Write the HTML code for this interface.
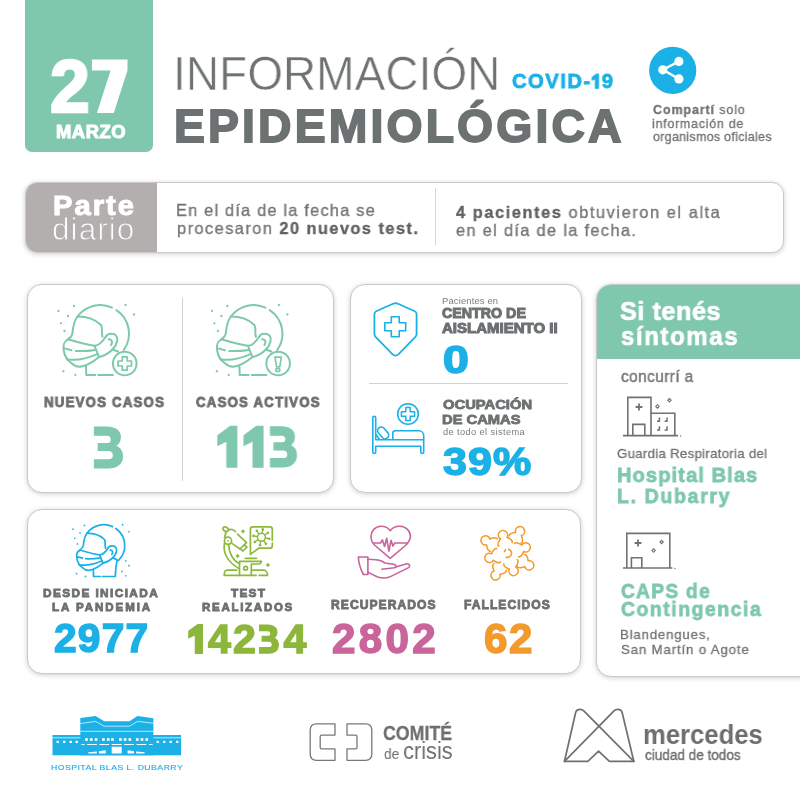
<!DOCTYPE html><html><head><meta charset="utf-8"><style>
*{margin:0;padding:0;box-sizing:border-box}
html,body{width:800px;height:800px;overflow:hidden;background:#fff}
body{position:relative;font-family:"Liberation Sans",sans-serif}
.t{position:absolute;white-space:nowrap;line-height:1;transform-origin:0 0;will-change:transform}
.bl{display:inline-block;width:0;height:0;vertical-align:baseline}
.card{position:absolute;background:#fff;border:1px solid #c9c9c9;box-shadow:0 1px 5px rgba(0,0,0,.2)}
svg{position:absolute;left:0;top:0;overflow:visible}
</style></head><body>
<div style="position:absolute;left:25px;top:-10px;width:128px;height:162px;background:#7fc8ad;border-radius:0 0 7px 7px"></div>
<svg width="800" height="800" style="position:absolute;left:0;top:0"><path d="M91.9 59.4H127.5V70.4L113.75 113.1H96.9L110.6 70.6H91.9Z" fill="#fff"/></svg>
<svg width="800" height="800" style="position:absolute;left:0;top:0">
<circle cx="672.7" cy="70.4" r="23.6" fill="#1bb1e7"/>
<g fill="#fff"><circle cx="662.8" cy="69.8" r="4.6"/><circle cx="678.9" cy="61.4" r="4.6"/><circle cx="678.9" cy="78.9" r="4.6"/></g>
<path d="M662.8 69.8L678.9 61.4M662.8 69.8L678.9 78.9" stroke="#fff" stroke-width="2.4"/>
</svg>
<div class="card" style="left:25px;top:181.5px;width:758.5px;height:71px;border-radius:12px;overflow:hidden"><div style="position:absolute;left:-1px;top:-1px;width:132px;height:72px;background:#b3afaf"></div></div>
<div style="position:absolute;left:435.2px;top:188px;width:1.2px;height:57px;background:#d6d6d6"></div>
<div class="card" style="left:27px;top:283.5px;width:306.5px;height:209px;border-radius:15px"></div>
<div style="position:absolute;left:182.2px;top:298.4px;width:1.2px;height:182.4px;background:#d3d3d3"></div>
<div class="card" style="left:350px;top:283.5px;width:231.5px;height:209px;border-radius:15px"></div>
<div style="position:absolute;left:368.6px;top:382.5px;width:199.5px;height:1.2px;background:#d3d3d3"></div>
<div class="card" style="left:27px;top:508.5px;width:554px;height:165px;border-radius:15px"></div>
<div class="card" style="left:595.5px;top:283.5px;width:230px;height:393.5px;border-radius:15px;overflow:hidden"><div style="position:absolute;left:-1px;top:-1px;width:240px;height:75.5px;background:#7fc8ad"></div></div>
<svg width="800" height="800" viewBox="0 0 800 800" style="position:absolute;left:0;top:0"><g transform="translate(50.00 295.00) scale(1.000)" fill="none" stroke="#7ccaa9" stroke-width="2.00" stroke-linecap="round" stroke-linejoin="round"><path d="M27.5 21.5A28.2 28.2 0 0 1 62 12.6M66.4 15.1A28.2 28.2 0 0 1 73.75 55.00"/><path d="M27.5 21.5C35 21.5 45 24 51 30C53 33 51 37 52.5 41.8"/><path d="M27.5 21.5C24 26 23 32 22.5 38C22 41 20 43 17.5 44.6"/><path d="M18.25 44.4C27 47 37 50 44.5 50.75C49 50.5 53 46 55.75 41.75"/><path d="M18.25 44.4C14 46 13 51 13.75 55.25C14.5 61 17 65 21.25 68C24 70.5 27 72 30 71.75C36 71 43 67 49 62"/><path d="M44.5 50.75L49 62C54 61 59 58 62.5 54.5"/><path d="M14.5 53.4L21.5 55.2M25.8 56C33 56.2 40 55.8 45.6 54.9"/><path d="M16.75 64.25C24 65.5 36 64 47.8 58.8"/><path d="M55.75 41.75C57 39 60 38.5 62 38.75C66 39 68 42 67.2 46C66.5 50 64.5 52.5 62.5 54.5"/><path d="M58.8 44.3C60.6 44 62 45.5 62 47C62 48.5 61.6 49.4 61 50"/><path d="M36 71.2L36.3 80H45.2M48.3 80H63"/><path d="M62.5 54.5L68 56.5"/></g><g transform="translate(50.00 295.00) scale(1.000)"><circle cx="24.00" cy="11.00" r="1.15" fill="#7ccaa9"/><circle cx="8.50" cy="16.00" r="1.15" fill="#7ccaa9"/><circle cx="18.00" cy="21.00" r="1.15" fill="#7ccaa9"/><circle cx="11.00" cy="28.30" r="1.15" fill="#7ccaa9"/><circle cx="14.50" cy="36.00" r="1.15" fill="#7ccaa9"/><circle cx="75.50" cy="10.00" r="1.15" fill="#7ccaa9"/><circle cx="84.00" cy="19.50" r="1.15" fill="#7ccaa9"/><circle cx="13.40" cy="76.25" r="1.15" fill="#7ccaa9"/><circle cx="25.40" cy="79.90" r="1.15" fill="#7ccaa9"/></g><circle cx="124.75" cy="363.50" r="11.8" fill="#fff" stroke="#7ccaa9" stroke-width="2"/><path d="M122.25 356.8H127.25V361.0H131.45V366.0H127.25V370.2H122.25V366.0H118.05V361.0H122.25Z" fill="none" stroke="#7ccaa9" stroke-width="1.7" stroke-linejoin="round"/><g transform="translate(203.40 295.00) scale(1.000)" fill="none" stroke="#7ccaa9" stroke-width="2.00" stroke-linecap="round" stroke-linejoin="round"><path d="M27.5 21.5A28.2 28.2 0 0 1 62 12.6M66.4 15.1A28.2 28.2 0 0 1 73.75 55.00"/><path d="M27.5 21.5C35 21.5 45 24 51 30C53 33 51 37 52.5 41.8"/><path d="M27.5 21.5C24 26 23 32 22.5 38C22 41 20 43 17.5 44.6"/><path d="M18.25 44.4C27 47 37 50 44.5 50.75C49 50.5 53 46 55.75 41.75"/><path d="M18.25 44.4C14 46 13 51 13.75 55.25C14.5 61 17 65 21.25 68C24 70.5 27 72 30 71.75C36 71 43 67 49 62"/><path d="M44.5 50.75L49 62C54 61 59 58 62.5 54.5"/><path d="M14.5 53.4L21.5 55.2M25.8 56C33 56.2 40 55.8 45.6 54.9"/><path d="M16.75 64.25C24 65.5 36 64 47.8 58.8"/><path d="M55.75 41.75C57 39 60 38.5 62 38.75C66 39 68 42 67.2 46C66.5 50 64.5 52.5 62.5 54.5"/><path d="M58.8 44.3C60.6 44 62 45.5 62 47C62 48.5 61.6 49.4 61 50"/><path d="M36 71.2L36.3 80H45.2M48.3 80H63"/><path d="M62.5 54.5L68 56.5"/></g><g transform="translate(203.40 295.00) scale(1.000)"><circle cx="24.00" cy="11.00" r="1.15" fill="#7ccaa9"/><circle cx="8.50" cy="16.00" r="1.15" fill="#7ccaa9"/><circle cx="18.00" cy="21.00" r="1.15" fill="#7ccaa9"/><circle cx="11.00" cy="28.30" r="1.15" fill="#7ccaa9"/><circle cx="14.50" cy="36.00" r="1.15" fill="#7ccaa9"/><circle cx="75.50" cy="10.00" r="1.15" fill="#7ccaa9"/><circle cx="84.00" cy="19.50" r="1.15" fill="#7ccaa9"/><circle cx="13.40" cy="76.25" r="1.15" fill="#7ccaa9"/><circle cx="25.40" cy="79.90" r="1.15" fill="#7ccaa9"/></g><circle cx="278.15" cy="363.50" r="11.8" fill="#fff" stroke="#7ccaa9" stroke-width="2"/><path d="M274.95 357.20H281.35L279.75 366.80H276.55Z" fill="none" stroke="#7ccaa9" stroke-width="1.7" stroke-linejoin="round"/><rect x="275.85" y="368.80" width="4" height="2.6" rx="0.6" fill="none" stroke="#7ccaa9" stroke-width="1.6"/><g fill="none" stroke="#1bb1e7" stroke-width="1.8" stroke-linejoin="round"><path d="M395.5 303.2C394.6 303.2 393.8 303.5 393 303.8L376.2 311.2C374.9 311.8 374.4 312.8 374.4 314.2V334C374.4 335.2 374.8 336 375.6 336.9L392.6 354.3C394.2 355.9 396.8 355.9 398.4 354.3L415.4 336.9C416.2 336 416.6 335.2 416.6 334V314.2C416.6 312.8 416.1 311.8 414.8 311.2L398 303.8C397.2 303.5 396.4 303.2 395.5 303.2Z"/><path d="M391.3 316.8H399.2V322.8H405.7V330.7H399.2V336.7H391.3V330.7H384.8V322.8H391.3Z" stroke-width="1.6"/></g><g fill="none" stroke="#1bb1e7" stroke-width="1.6" stroke-linejoin="round"><path d="M375.7 439.8V417.7A1.45 1.45 0 0 0 372.8 417.7V452A1.45 1.45 0 0 0 375.7 452V446.3H420.8V452A1.45 1.45 0 0 0 423.7 452V439.8Z"/><path d="M392.8 439.8V433.2A2.4 2.4 0 0 1 395.2 430.8H418.9A4.8 4.8 0 0 1 423.7 435.6V439.8"/><rect x="-6.6" y="-3.6" width="13.2" height="7.2" rx="3.6" transform="translate(383.2 432.9) rotate(50)"/><path d="M376 434.5L379.5 439.5"/><circle cx="408.0" cy="414.0" r="10.3"/><path d="M405.8 407.4H410.2V411.8H414.6V416.2H410.2V420.6H405.8V416.2H401.4V411.8H405.8Z" stroke-width="1.5"/></g><g fill="none" stroke="#6f7273" stroke-width="1.6"><path d="M627.8 435.6V397.4H651V435.6M651 413.2H674.8V435.6"/><path d="M632.8 435.6V424.4H644.8V435.6"/><path d="M639 403.6V410.4M635.6 407H642.4" stroke-width="1.8"/><path d="M659.4 417.4V421.2H657.0" stroke-width="1.5"/><path d="M667.0 417.4V421.2H664.6" stroke-width="1.5"/><path d="M659.4 426.2V430.0H657.0" stroke-width="1.5"/><path d="M667.0 426.2V430.0H664.6" stroke-width="1.5"/><path d="M623 435.6H678"/></g><circle cx="680.6" cy="436" r="0.7" fill="#6f7273"/><path d="M657.40 404.70L659.10 406.40L657.40 408.10L655.70 406.40Z" fill="none" stroke="#6f7273" stroke-width="1.1"/><path d="M669.40 398.50L671.10 400.20L669.40 401.90L667.70 400.20Z" fill="none" stroke="#6f7273" stroke-width="1.1"/><g fill="none" stroke="#6f7273" stroke-width="1.6"><path d="M626.8 568V533.4H669.8V568"/><path d="M631.4 568V557.8H641.8V568"/><path d="M638 539.6V546.4M634.6 543H641.4" stroke-width="1.8"/><path d="M623 568H672.4"/></g><circle cx="675" cy="568.4" r="0.7" fill="#6f7273"/><path d="M661.60 540.30L663.30 542.00L661.60 543.70L659.90 542.00Z" fill="none" stroke="#6f7273" stroke-width="1.1"/><path d="M653.60 548.90L655.30 550.60L653.60 552.30L651.90 550.60Z" fill="none" stroke="#6f7273" stroke-width="1.1"/><g transform="translate(66.70 517.30) scale(0.740)" fill="none" stroke="#1bb1e7" stroke-width="2.35" stroke-linecap="round" stroke-linejoin="round"><path d="M27.5 21.5A28.2 28.2 0 0 1 62 12.6M66.4 15.1A28.2 28.2 0 0 1 69.90 58.40"/><path d="M27.5 21.5C35 21.5 45 24 51 30C53 33 51 37 52.5 41.8"/><path d="M27.5 21.5C24 26 23 32 22.5 38C22 41 20 43 17.5 44.6"/><path d="M18.25 44.4C27 47 37 50 44.5 50.75C49 50.5 53 46 55.75 41.75"/><path d="M18.25 44.4C14 46 13 51 13.75 55.25C14.5 61 17 65 21.25 68C24 70.5 27 72 30 71.75C36 71 43 67 49 62"/><path d="M44.5 50.75L49 62C54 61 59 58 62.5 54.5"/><path d="M14.5 53.4L21.5 55.2M25.8 56C33 56.2 40 55.8 45.6 54.9"/><path d="M16.75 64.25C24 65.5 36 64 47.8 58.8"/><path d="M55.75 41.75C57 39 60 38.5 62 38.75C66 39 68 42 67.2 46C66.5 50 64.5 52.5 62.5 54.5"/><path d="M58.8 44.3C60.6 44 62 45.5 62 47C62 48.5 61.6 49.4 61 50"/><path d="M36 71.2L36.3 80H45.2M48.3 80H65.7C66 72 67 63 68.3 57.6L62.5 54.5"/></g><g transform="translate(66.70 517.30) scale(0.740)"><circle cx="24.00" cy="11.00" r="1.15" fill="#1bb1e7"/><circle cx="8.50" cy="16.00" r="1.15" fill="#1bb1e7"/><circle cx="18.00" cy="21.00" r="1.15" fill="#1bb1e7"/><circle cx="11.00" cy="28.30" r="1.15" fill="#1bb1e7"/><circle cx="14.50" cy="36.00" r="1.15" fill="#1bb1e7"/><circle cx="75.50" cy="10.00" r="1.15" fill="#1bb1e7"/><circle cx="84.00" cy="19.50" r="1.15" fill="#1bb1e7"/><circle cx="13.40" cy="76.25" r="1.15" fill="#1bb1e7"/><circle cx="25.40" cy="79.90" r="1.15" fill="#1bb1e7"/><circle cx="79.90" cy="58.90" r="1.15" fill="#1bb1e7"/><circle cx="84.00" cy="65.40" r="1.15" fill="#1bb1e7"/><circle cx="74.60" cy="73.10" r="1.15" fill="#1bb1e7"/><circle cx="79.90" cy="79.00" r="1.15" fill="#1bb1e7"/></g><g fill="none" stroke="#8cb83c" stroke-width="1.7" stroke-linecap="round" stroke-linejoin="round"><path d="M229 529.75L226 532.2L223.6 530C222.6 529 222.7 527.8 223.6 527.2C224.5 526.6 225.8 526.8 226.6 527.3Z"/><path d="M229 529.75C230.5 528.8 233.5 529.4 235.5 531.6"/><path d="M237.5 534.2L246.5 542.6L240 549L232 543.4"/><path d="M226 532.2L224.6 537.5"/><path d="M240.3 548.7L243 551L246.9 547.2L244.3 544.8"/><circle cx="228" cy="540.8" r="3.6"/><circle cx="228" cy="540.8" r="0.9" fill="#8cb83c" stroke="none"/><path d="M224.4 543.5C223.4 550 225 560 238.6 568.4"/><path d="M228.6 544.6C229 551 231 559 239.5 564"/><path d="M245.3 558.3H256.5"/><path d="M239.5 575.4V561.4H261.4C261 563 260 564 258.7 564H251.3V575.4"/><circle cx="245.6" cy="568.3" r="1.9"/><path d="M236.8 570.1H227.2C225 570.1 224.2 572.5 224.2 575.4H256.1M259.2 575.4H267.5C267.5 572.5 266 570.1 263.8 570.1H252.6"/><path d="M272.3 540.2V529.3C272.3 527.9 271.2 526.8 269.8 526.8H252.9C251.5 526.8 250.4 527.9 250.4 529.3V554.4L258.7 548.2H269.8C271.2 548.2 272.3 547.1 272.3 545.7V543.2"/><circle cx="261.4" cy="537.3" r="4.0" stroke-width="1.5"/><path d="M265.34 537.99L268.88 538.62" stroke-width="1.3"/><path d="M263.69 540.58L265.76 543.53" stroke-width="1.3"/><path d="M260.71 541.24L260.08 544.78" stroke-width="1.3"/><path d="M258.12 539.59L255.17 541.66" stroke-width="1.3"/><path d="M257.46 536.61L253.92 535.98" stroke-width="1.3"/><path d="M259.11 534.02L257.04 531.07" stroke-width="1.3"/><path d="M262.09 533.36L262.72 529.82" stroke-width="1.3"/><path d="M264.68 535.01L267.63 532.94" stroke-width="1.3"/></g><circle cx="269.28" cy="538.69" r="1.3" fill="#8cb83c"/><circle cx="265.99" cy="543.85" r="1.3" fill="#8cb83c"/><circle cx="260.01" cy="545.18" r="1.3" fill="#8cb83c"/><circle cx="254.85" cy="541.89" r="1.3" fill="#8cb83c"/><circle cx="253.52" cy="535.91" r="1.3" fill="#8cb83c"/><circle cx="256.81" cy="530.75" r="1.3" fill="#8cb83c"/><circle cx="262.79" cy="529.42" r="1.3" fill="#8cb83c"/><circle cx="267.95" cy="532.71" r="1.3" fill="#8cb83c"/><path d="M243 528.9Q243.672 530.6279999999999 245.4 531.3Q243.672 531.972 243 533.6999999999999Q242.328 531.972 240.6 531.3Q242.328 530.6279999999999 243 528.9Z" fill="#8cb83c"/><path d="M237.6 553.6Q238.272 555.328 240.0 556Q238.272 556.672 237.6 558.4Q236.928 556.672 235.2 556Q236.928 555.328 237.6 553.6Z" fill="#8cb83c"/><path d="M267.9 562.5Q268.572 564.228 270.29999999999995 564.9Q268.572 565.572 267.9 567.3Q267.22799999999995 565.572 265.5 564.9Q267.22799999999995 564.228 267.9 562.5Z" fill="#8cb83c"/><g fill="none" stroke="#c8639b" stroke-width="1.6" stroke-linecap="round" stroke-linejoin="round"><path d="M390.2 530.7C388 527.5 384.5 526.1 381 526.2C375 526.5 371 531 371 536.5C371 540 372.5 543 375 545.5L390.2 558.3L405.5 545.5C408 543 410.4 540 410.4 536.5C410.4 531 406 526.5 400 526.2C396 526.1 392.5 527.5 390.2 530.7Z"/><path d="M374 543H380.6L382.4 539.9L384.6 546.5L386.7 538.2L388.9 551.2L391.1 540.4L392.9 546.1L394.6 543H407.4"/><path d="M358.3 557H367.9V574.5H363.4C360.6 569.5 358.8 564 358.3 557Z"/><path d="M367.9 559.2C372 559.2 378 559.6 381.5 561L385 563C388 563.8 392 564 393.7 564.2C396.5 564.6 396.6 567.6 394.5 567.8L381.9 569.2"/><path d="M395.4 567L406.9 563.8C409.2 563.3 410.6 566.4 408.6 567.6L389.4 577.1C385 578.6 381 578.2 377 576.8L368.2 572.4"/></g><g fill="none" stroke="#f39a2c" stroke-width="1.55" stroke-linecap="round"><path d="M509.15 536.04C509.06 532.99 513.37 532.70 515.50 532.17A4.60 4.60 0 1 1 521.43 535.57C522.05 537.68 523.97 541.55 521.29 543.01"/><path d="M498.64 546.15C496.44 544.04 499.32 540.81 500.47 538.94A4.60 4.60 0 1 1 507.08 537.22C509.00 538.29 513.08 539.71 512.19 542.63"/><path d="M490.45 551.20C487.40 551.33 487.07 547.01 486.51 544.89A4.60 4.60 0 1 1 489.86 538.92C491.96 538.29 495.81 536.33 497.30 538.99"/><path d="M500.53 562.05C498.46 564.29 495.18 561.47 493.29 560.36A4.60 4.60 0 1 1 491.44 553.78C492.48 551.84 493.82 547.73 496.76 548.57"/><path d="M506.28 570.20C506.48 573.25 502.17 573.68 500.06 574.28A4.60 4.60 0 1 1 494.02 571.08C493.34 568.99 491.29 565.18 493.92 563.64"/><path d="M517.20 559.71C519.52 561.69 516.84 565.08 515.80 567.02A4.60 4.60 0 1 1 509.30 569.13C507.33 568.17 503.16 566.99 503.88 564.03"/><path d="M524.40 554.43C527.45 554.35 527.72 558.67 528.25 560.80A4.60 4.60 0 1 1 524.82 566.72C522.71 567.32 518.83 569.24 517.38 566.55"/><path d="M514.50 543.44C516.53 541.16 519.86 543.92 521.77 545.00A4.60 4.60 0 1 1 523.73 551.56C522.72 553.51 521.45 557.64 518.50 556.85"/><path d="M508.5 549.2A4 4 0 1 1 506.2 557.2"/><path d="M504.4 551.5L505.6 549.6"/></g><g><rect x="52.5" y="735" width="128.5" height="20.3" fill="#1bb1e7"/><path d="M80.3 755.3V718.1L95.6 715.9L104.2 721.3H129.5L137.5 715.9L153.4 718.2V755.3Z" fill="#1bb1e7"/><g fill="none" stroke="#fff" stroke-width="0.7"><path d="M80.3 723.6L95.6 721.4L104.2 726.2H129.5L137.5 721.4L153.4 723.2"/><path d="M80.3 731.3H153.4M52.5 737.8H80.3M153.4 737.8H181"/></g><g fill="#fff"><rect x="56.5" y="740.8" width="2.4" height="2.2"/><rect x="63.0" y="740.8" width="2.4" height="2.2"/><rect x="69.5" y="740.8" width="2.4" height="2.2"/><rect x="75.5" y="740.8" width="2.4" height="2.2"/><rect x="156.5" y="740.8" width="2.4" height="2.2"/><rect x="163.0" y="740.8" width="2.4" height="2.2"/><rect x="169.5" y="740.8" width="2.4" height="2.2"/><rect x="176.0" y="740.8" width="2.4" height="2.2"/><rect x="85.1" y="738.2" width="2.7" height="2.6"/><rect x="89.9" y="738.2" width="2.7" height="2.6"/><rect x="94.7" y="738.2" width="2.7" height="2.6"/><rect x="102.1" y="738.2" width="2.7" height="2.6"/><rect x="106.9" y="738.2" width="2.7" height="2.6"/><rect x="111.1" y="738.2" width="2.7" height="2.6"/><rect x="119.0" y="738.2" width="2.7" height="2.6"/><rect x="123.7" y="738.2" width="2.7" height="2.6"/><rect x="128.5" y="738.2" width="2.7" height="2.6"/><rect x="135.9" y="738.2" width="2.7" height="2.6"/><rect x="140.6" y="738.2" width="2.7" height="2.6"/><rect x="145.4" y="738.2" width="2.7" height="2.6"/><rect x="81.4" y="744" width="3.2" height="1"/><rect x="87.2" y="744" width="9.6" height="1"/><rect x="99.4" y="744" width="9.6" height="1"/><rect x="111.7" y="744" width="10.0" height="1"/><rect x="124.2" y="744" width="9.8" height="1"/><rect x="136.7" y="744" width="9.6" height="1"/><rect x="149.0" y="744" width="3.6" height="1"/><rect x="111.7" y="746.7" width="10" height="6.8"/><path d="M88.3 753.5H96.8V751.4L88.3 752.2ZM98.9 753.5H105.8V750.3L98.9 751.2Z"/><path d="M144.6 753.5H136.1V751.4L144.6 752.2ZM134 753.5H127.6V750.3L134 751.2Z"/></g></g><g fill="none" stroke="#77787a" stroke-width="1.3" stroke-linejoin="round"><path d="M335 723.8H316.5C312.5 723.8 310.2 726.1 310.2 730.1V754C310.2 758 312.5 760.3 316.5 760.3H335V748.9H321.5C320.7 748.9 320.2 748.4 320.2 747.6V736.4C320.2 735.6 320.7 735.1 321.5 735.1H335Z"/><path d="M347 723.8H365.5C369.5 723.8 371.8 726.1 371.8 730.1V754C371.8 758 369.5 760.3 365.5 760.3H347V748.9H355.7C356.5 748.9 357 748.4 357 747.6V736.4C357 735.6 356.5 735.1 355.7 735.1H347Z"/></g><g fill="none" stroke="#6e7072" stroke-width="1.7" stroke-linejoin="round" stroke-linecap="round"><path d="M564.5 761.3L575.6 712.8C576.2 710.3 578 709.3 580 709.3C581.6 709.3 582.8 709.9 583.8 710.9L633.8 761.3"/><path d="M633.8 761.3L622.2 712.8C621.6 710.3 619.8 709.3 617.8 709.3C616.2 709.3 615 709.9 614 710.9L564.5 761.3"/><path d="M564.5 761.3H587.8L598.6 751.2L609.4 761.3H633.8"/></g></svg>
<div id="t27" class="t" style="left:50.05px;top:49.80px;font-size:74.286px;color:#ffffff;transform:scaleX(0.9605);letter-spacing:0.000px;-webkit-text-stroke-width:2.60px;"><span style="font-weight:700;">2</span><i class="bl"></i></div>
<div id="marzo" class="t" style="left:55.55px;top:123.60px;font-size:17.536px;color:#ffffff;transform:scaleX(1.0500);letter-spacing:0.524px;-webkit-text-stroke-width:1.00px;"><span style="font-weight:700;">MARZO</span><i class="bl"></i></div>
<div id="info" class="t" style="left:172.57px;top:48.55px;font-size:48.333px;color:#6e7273;transform:scaleX(0.9500);letter-spacing:0.099px;-webkit-text-stroke:0.60px #fff;"><span style="font-weight:400;">INFORMACIÓN</span><i class="bl"></i></div>
<div id="covid" class="t" style="left:511.79px;top:70.60px;font-size:20.870px;color:#1bb1e7;transform:scaleX(0.9700);letter-spacing:1.518px;-webkit-text-stroke-width:0.80px;"><span style="font-weight:700;">COVID-<svg viewBox="0 0 427 690" style="width:0.427em;height:0.69em;vertical-align:baseline;position:static;overflow:visible;margin-right:1.518px"><path d="M240 -4H347V690H183V228L23 306V150Z" fill="currentColor" stroke="currentColor" stroke-width="38.3" stroke-linejoin="miter"/></svg>9</span><i class="bl"></i></div>
<div id="epi" class="t" style="left:173.89px;top:102.85px;font-size:46.304px;color:#6c7172;transform:scaleX(1.0000);letter-spacing:3.157px;-webkit-text-stroke-width:1.80px;"><span style="font-weight:700;">EPIDEMIOLÓGICA</span><i class="bl"></i></div>
<div id="sh1" class="t" style="left:652.55px;top:103.45px;font-size:13.188px;color:#6d7072;transform:scaleX(0.9500);letter-spacing:0.909px;-webkit-text-stroke-width:0.30px;"><span style="font-weight:700;">Compartí</span><span style="font-weight:400;"> solo</span><i class="bl"></i></div>
<div id="sh2" class="t" style="left:652.34px;top:116.95px;font-size:13.188px;color:#6d7072;transform:scaleX(0.9500);letter-spacing:0.744px;-webkit-text-stroke-width:0.30px;"><span style="font-weight:400;">información de</span><i class="bl"></i></div>
<div id="sh3" class="t" style="left:652.65px;top:129.75px;font-size:13.188px;color:#6d7072;transform:scaleX(0.9500);letter-spacing:0.284px;-webkit-text-stroke-width:0.30px;"><span style="font-weight:400;">organismos oficiales</span><i class="bl"></i></div>
<div id="parte" class="t" style="left:52.61px;top:193.10px;font-size:26.957px;color:#ffffff;transform:scaleX(1.0800);letter-spacing:1.882px;-webkit-text-stroke-width:1.00px;"><span style="font-weight:700;">Parte</span><i class="bl"></i></div>
<div id="diario" class="t" style="left:52.29px;top:214.45px;font-size:31.586px;color:#ffffff;transform:scaleX(1.0000);letter-spacing:1.040px;-webkit-text-stroke:0.90px #b3afaf;"><span style="font-weight:400;">diario</span><i class="bl"></i></div>
<div id="l1" class="t" style="left:176.36px;top:203.32px;font-size:16.884px;color:#737677;transform:scaleX(0.9700);letter-spacing:1.235px;-webkit-text-stroke-width:0.35px;"><span style="font-weight:400;">En el día de la fecha se</span><i class="bl"></i></div>
<div id="l2" class="t" style="left:176.71px;top:220.62px;font-size:16.884px;color:#737677;transform:scaleX(0.9700);letter-spacing:1.492px;-webkit-text-stroke-width:0.35px;"><span style="font-weight:400;">procesaron </span><span style="font-weight:700;color:#5f6263;">20 nuevos test.</span><i class="bl"></i></div>
<div id="r1" class="t" style="left:455.93px;top:204.82px;font-size:16.884px;color:#737677;transform:scaleX(0.9700);letter-spacing:1.615px;-webkit-text-stroke-width:0.35px;"><span style="font-weight:700;color:#5f6263;">4 pacientes</span><span style="font-weight:400;"> obtuvieron el alta</span><i class="bl"></i></div>
<div id="r2" class="t" style="left:455.52px;top:222.82px;font-size:16.884px;color:#737677;transform:scaleX(0.9700);letter-spacing:1.365px;-webkit-text-stroke-width:0.35px;"><span style="font-weight:400;">en el día de la fecha.</span><i class="bl"></i></div>
<div id="nc" class="t" style="left:44.09px;top:396.30px;font-size:13.913px;color:#6d7072;transform:scaleX(0.9500);letter-spacing:1.288px;-webkit-text-stroke-width:0.90px;"><span style="font-weight:700;">NUEVOS CASOS</span><i class="bl"></i></div>
<div id="ca" class="t" style="left:196.32px;top:396.30px;font-size:13.913px;color:#6d7072;transform:scaleX(0.9500);letter-spacing:1.288px;-webkit-text-stroke-width:0.90px;"><span style="font-weight:700;">CASOS ACTIVOS</span><i class="bl"></i></div>
<div id="n3" class="t" style="left:92.01px;top:417.95px;font-size:59.500px;color:#7fc8ad;transform:scaleX(1.0327);letter-spacing:0.000px;-webkit-text-stroke-width:1.60px;"><span style="font-weight:700;"><svg viewBox="0 0 556 690" style="width:0.556em;height:0.69em;vertical-align:baseline;position:static;overflow:visible;margin-right:0.000px"><path d="M43 5H240C370 5 457 70 457 170C457 240 422 292 372 318C452 345 493 410 493 490C493 612 400 685 262 685H43V556H265C320 556 353 525 353 480C353 425 318 390 262 390H106V281H252C292 281 318 255 318 213C318 165 290 134 240 134H43Z" fill="currentColor" stroke="currentColor" stroke-width="26.9" stroke-linejoin="miter"/></svg></span><i class="bl"></i></div>
<div id="n113" class="t" style="left:217.11px;top:419.00px;font-size:57.714px;color:#7fc8ad;transform:scaleX(0.9700);letter-spacing:2.098px;-webkit-text-stroke-width:2.00px;"><span style="font-weight:700;"><svg viewBox="0 0 427 690" style="width:0.427em;height:0.69em;vertical-align:baseline;position:static;overflow:visible;margin-right:2.098px"><path d="M240 -4H347V690H183V228L23 306V150Z" fill="currentColor" stroke="currentColor" stroke-width="34.7" stroke-linejoin="miter"/></svg><svg viewBox="0 0 427 690" style="width:0.427em;height:0.69em;vertical-align:baseline;position:static;overflow:visible;margin-right:2.098px"><path d="M240 -4H347V690H183V228L23 306V150Z" fill="currentColor" stroke="currentColor" stroke-width="34.7" stroke-linejoin="miter"/></svg><svg viewBox="0 0 556 690" style="width:0.556em;height:0.69em;vertical-align:baseline;position:static;overflow:visible;margin-right:2.098px"><path d="M43 5H240C370 5 457 70 457 170C457 240 422 292 372 318C452 345 493 410 493 490C493 612 400 685 262 685H43V556H265C320 556 353 525 353 480C353 425 318 390 262 390H106V281H252C292 281 318 255 318 213C318 165 290 134 240 134H43Z" fill="currentColor" stroke="currentColor" stroke-width="34.7" stroke-linejoin="miter"/></svg></span><i class="bl"></i></div>
<div id="pac" class="t" style="left:441.65px;top:296.40px;font-size:9.420px;color:#7a7c7d;transform:scaleX(1.0000);letter-spacing:0.147px;"><span style="font-weight:400;">Pacientes en</span><i class="bl"></i></div>
<div id="cen" class="t" style="left:442.43px;top:307.10px;font-size:13.768px;color:#6d7072;transform:scaleX(1.0363);letter-spacing:0.000px;-webkit-text-stroke-width:1.00px;"><span style="font-weight:700;">CENTRO DE</span><i class="bl"></i></div>
<div id="ais" class="t" style="left:442.22px;top:322.10px;font-size:13.768px;color:#6d7072;transform:scaleX(1.0919);letter-spacing:0.000px;-webkit-text-stroke-width:1.00px;"><span style="font-weight:700;">AISLAMIENTO II</span><i class="bl"></i></div>
<div id="n0" class="t" style="left:442.69px;top:340.85px;font-size:38.429px;color:#1bb1e7;transform:scaleX(1.2080);letter-spacing:0.000px;-webkit-text-stroke-width:1.60px;"><span style="font-weight:700;">0</span><i class="bl"></i></div>
<div id="ocu" class="t" style="left:442.71px;top:399.20px;font-size:12.464px;color:#6d7072;transform:scaleX(1.1845);letter-spacing:0.000px;-webkit-text-stroke-width:0.80px;"><span style="font-weight:700;">OCUPACIÓN</span><i class="bl"></i></div>
<div id="dec" class="t" style="left:442.34px;top:413.70px;font-size:12.754px;color:#6d7072;transform:scaleX(1.1551);letter-spacing:0.000px;-webkit-text-stroke-width:0.80px;"><span style="font-weight:700;">DE CAMAS</span><i class="bl"></i></div>
<div id="sis" class="t" style="left:442.53px;top:428.20px;font-size:9.241px;color:#7a7c7d;transform:scaleX(1.0000);letter-spacing:0.396px;"><span style="font-weight:400;">de todo el sistema</span><i class="bl"></i></div>
<div id="n39" class="t" style="left:442.57px;top:442.00px;font-size:39.143px;color:#1bb1e7;transform:scaleX(1.1000);letter-spacing:0.927px;-webkit-text-stroke-width:1.50px;"><span style="font-weight:700;">39%</span><i class="bl"></i></div>
<div id="si" class="t" style="left:620.19px;top:298.15px;font-size:26.522px;color:#ffffff;transform:scaleX(0.9500);letter-spacing:0.577px;-webkit-text-stroke-width:0.70px;"><span style="font-weight:700;">Si tenés</span><i class="bl"></i></div>
<div id="sin" class="t" style="left:620.52px;top:323.85px;font-size:25.094px;color:#ffffff;transform:scaleX(0.9500);letter-spacing:1.794px;-webkit-text-stroke-width:0.70px;"><span style="font-weight:700;">síntomas</span><i class="bl"></i></div>
<div id="conc" class="t" style="left:621.08px;top:367.80px;font-size:16.226px;color:#6f7273;transform:scaleX(0.9500);letter-spacing:0.444px;-webkit-text-stroke-width:0.40px;"><span style="font-weight:400;">concurrí a</span><i class="bl"></i></div>
<div id="guar" class="t" style="left:617.49px;top:446.85px;font-size:13.623px;color:#6f7273;transform:scaleX(0.9700);letter-spacing:0.316px;-webkit-text-stroke-width:0.30px;"><span style="font-weight:400;">Guardia Respiratoria del</span><i class="bl"></i></div>
<div id="hos" class="t" style="left:617.09px;top:464.60px;font-size:20.725px;color:#7fc8ad;transform:scaleX(0.9700);letter-spacing:1.113px;-webkit-text-stroke-width:0.80px;"><span style="font-weight:700;">Hospital Blas</span><i class="bl"></i></div>
<div id="dub" class="t" style="left:617.13px;top:485.50px;font-size:20.145px;color:#7fc8ad;transform:scaleX(0.9700);letter-spacing:1.703px;-webkit-text-stroke-width:0.80px;"><span style="font-weight:700;">L. Dubarry</span><i class="bl"></i></div>
<div id="caps" class="t" style="left:620.64px;top:581.60px;font-size:19.710px;color:#7fc8ad;transform:scaleX(0.9700);letter-spacing:1.366px;-webkit-text-stroke-width:0.80px;"><span style="font-weight:700;">CAPS de</span><i class="bl"></i></div>
<div id="cont" class="t" style="left:620.62px;top:599.00px;font-size:20.000px;color:#7fc8ad;transform:scaleX(0.9700);letter-spacing:1.582px;-webkit-text-stroke-width:0.80px;"><span style="font-weight:700;">Contingencia</span><i class="bl"></i></div>
<div id="bla" class="t" style="left:620.09px;top:628.35px;font-size:13.623px;color:#6f7273;transform:scaleX(0.9700);letter-spacing:0.850px;-webkit-text-stroke-width:0.30px;"><span style="font-weight:400;">Blandengues,</span><i class="bl"></i></div>
<div id="san" class="t" style="left:620.56px;top:642.75px;font-size:13.623px;color:#6f7273;transform:scaleX(0.9700);letter-spacing:0.896px;-webkit-text-stroke-width:0.30px;"><span style="font-weight:400;">San Martín o Agote</span><i class="bl"></i></div>
<div id="des" class="t" style="left:43.06px;top:587.98px;font-size:11.812px;color:#6d7072;transform:scaleX(1.0000);letter-spacing:1.413px;-webkit-text-stroke-width:0.85px;"><span style="font-weight:700;">DESDE INICIADA</span><i class="bl"></i></div>
<div id="lap" class="t" style="left:51.68px;top:602.18px;font-size:11.522px;color:#6d7072;transform:scaleX(1.0000);letter-spacing:1.949px;-webkit-text-stroke-width:0.85px;"><span style="font-weight:700;">LA PANDEMIA</span><i class="bl"></i></div>
<div id="n2977" class="t" style="left:53.73px;top:618.25px;font-size:40.714px;color:#1bb1e7;transform:scaleX(1.0000);letter-spacing:1.188px;-webkit-text-stroke-width:1.50px;"><span style="font-weight:700;">2977</span><i class="bl"></i></div>
<div id="tes" class="t" style="left:230.71px;top:587.98px;font-size:11.812px;color:#6d7072;transform:scaleX(1.0000);letter-spacing:1.269px;-webkit-text-stroke-width:0.85px;"><span style="font-weight:700;">TEST</span><i class="bl"></i></div>
<div id="rea" class="t" style="left:202.08px;top:602.18px;font-size:11.522px;color:#6d7072;transform:scaleX(1.0000);letter-spacing:1.712px;-webkit-text-stroke-width:0.85px;"><span style="font-weight:700;">REALIZADOS</span><i class="bl"></i></div>
<div id="n14234" class="t" style="left:188.06px;top:618.50px;font-size:41.071px;color:#8cb73b;transform:scaleX(1.0000);letter-spacing:2.380px;-webkit-text-stroke-width:1.50px;"><span style="font-weight:700;"><svg viewBox="0 0 427 690" style="width:0.427em;height:0.69em;vertical-align:baseline;position:static;overflow:visible;margin-right:2.380px"><path d="M240 -4H347V690H183V228L23 306V150Z" fill="currentColor" stroke="currentColor" stroke-width="36.5" stroke-linejoin="miter"/></svg>42<svg viewBox="0 0 556 690" style="width:0.556em;height:0.69em;vertical-align:baseline;position:static;overflow:visible;margin-right:2.380px"><path d="M43 5H240C370 5 457 70 457 170C457 240 422 292 372 318C452 345 493 410 493 490C493 612 400 685 262 685H43V556H265C320 556 353 525 353 480C353 425 318 390 262 390H106V281H252C292 281 318 255 318 213C318 165 290 134 240 134H43Z" fill="currentColor" stroke="currentColor" stroke-width="36.5" stroke-linejoin="miter"/></svg>4</span><i class="bl"></i></div>
<div id="rec" class="t" style="left:331.39px;top:598.78px;font-size:12.101px;color:#6d7072;transform:scaleX(1.0000);letter-spacing:1.052px;-webkit-text-stroke-width:0.85px;"><span style="font-weight:700;">RECUPERADOS</span><i class="bl"></i></div>
<div id="n2802" class="t" style="left:331.77px;top:618.00px;font-size:42.143px;color:#c9659b;transform:scaleX(1.0000);letter-spacing:3.298px;-webkit-text-stroke-width:1.50px;"><span style="font-weight:700;">2802</span><i class="bl"></i></div>
<div id="fal" class="t" style="left:464.39px;top:598.78px;font-size:12.101px;color:#6d7072;transform:scaleX(1.0000);letter-spacing:1.029px;-webkit-text-stroke-width:0.85px;"><span style="font-weight:700;">FALLECIDOS</span><i class="bl"></i></div>
<div id="n62" class="t" style="left:484.27px;top:618.00px;font-size:42.143px;color:#f39a2c;transform:scaleX(1.0000);letter-spacing:1.682px;-webkit-text-stroke-width:1.50px;"><span style="font-weight:700;">62</span><i class="bl"></i></div>
<div id="hbl" class="t" style="left:50.98px;top:763.62px;font-size:8.043px;color:#1bb1e7;transform:scaleX(1.0800);letter-spacing:0.439px;-webkit-text-stroke-width:0.15px;"><span style="font-weight:400;">HOSPITAL BLAS L. DUBARRY</span><i class="bl"></i></div>
<div id="com" class="t" style="left:383.44px;top:722.85px;font-size:20.580px;color:#6d6e70;transform:scaleX(0.8634);letter-spacing:0.000px;-webkit-text-stroke-width:0.30px;"><span style="font-weight:700;">COMITÉ</span><i class="bl"></i></div>
<div id="de" class="t" style="left:384.45px;top:746.00px;font-size:15.094px;color:#6d6e70;transform:scaleX(0.9049);letter-spacing:0.000px;"><span style="font-weight:400;">de</span><i class="bl"></i></div>
<div id="cri" class="t" style="left:403.13px;top:739.00px;font-size:24.528px;color:#6d6e70;transform:scaleX(0.8895);letter-spacing:0.000px;"><span style="font-weight:400;">crisis</span><i class="bl"></i></div>
<div id="mer" class="t" style="left:643.23px;top:721.40px;font-size:27.547px;color:#6d6e70;transform:scaleX(0.9312);letter-spacing:0.000px;"><span style="font-weight:700;">mercedes</span><i class="bl"></i></div>
<div id="ciu" class="t" style="left:644.56px;top:748.40px;font-size:14.528px;color:#6d6e70;transform:scaleX(0.9332);letter-spacing:0.000px;-webkit-text-stroke-width:0.40px;"><span style="font-weight:400;">ciudad de todos</span><i class="bl"></i></div>
</body></html>
